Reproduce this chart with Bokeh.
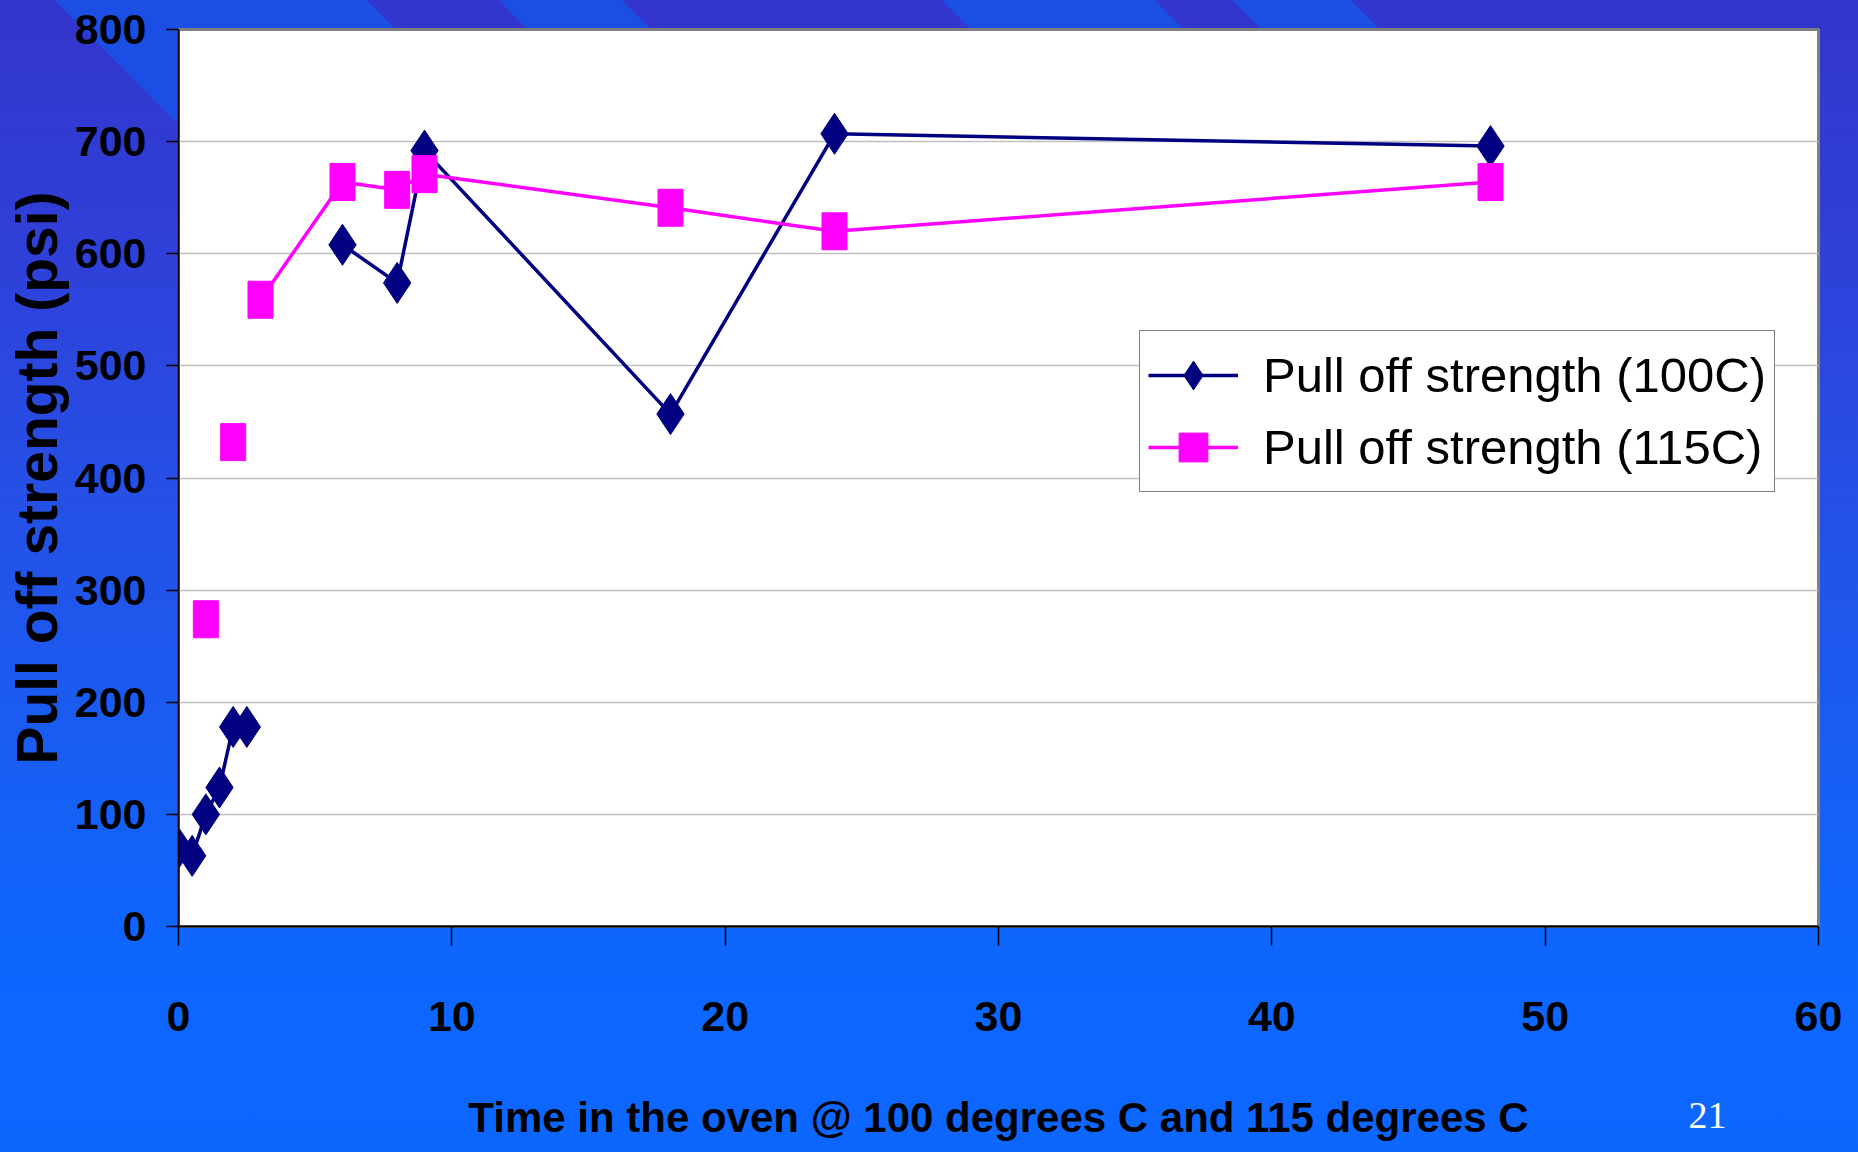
import numpy as np
from bokeh.plotting import figure
from bokeh.models import (ColumnDataSource, Range1d, FixedTicker, Legend, LegendItem,
                          Label, GlobalInlineStyleSheet)
from bokeh.embed import file_html
from bokeh.resources import INLINE

nan = float("nan")

# ---- data ----
hours = [0, 0.5, 1, 1.5, 2, 2.5, 3, 6, 8, 9, 18, 24, 48]
strength_100c = [70, 63, 100, 124, 178, 178, nan, 608, 574, 692, 457, 707, 696]
strength_115c = [nan, nan, 274, nan, 432, nan, 559, 664, 657, 671, 641, 620, 664]
x_ticks = [0, 10, 20, 30, 40, 50, 60]
y_ticks = [0, 100, 200, 300, 400, 500, 600, 700, 800]
series_names = ["Pull off strength (100C)", "Pull off strength (115C)"]
x_title = "Time in the oven @ 100 degrees C and 115 degrees C"
y_title = "Pull off strength (psi)"
page_number = "21"

SANS = "Liberation Sans, Arial, sans-serif"
SERIF = "Liberation Serif, Times New Roman, serif"
NAVY = "#000080"
MAGENTA = "#FF00FF"

src = ColumnDataSource(dict(hours=np.array(hours, dtype=float),
                            s100=np.array(strength_100c, dtype=float),
                            s115=np.array(strength_115c, dtype=float)))

p = figure(width=1858, height=1152,
           x_range=Range1d(0, 60), y_range=Range1d(0, 800),
           output_backend="svg", toolbar_location=None,
           min_border_left=178, min_border_right=40,
           min_border_top=29, min_border_bottom=226)

p.border_fill_alpha = 0
p.background_fill_color = "white"
p.outline_line_color = "#808080"
p.outline_line_width = 3

# axes
for ax in (p.xaxis[0], p.yaxis[0]):
    ax.axis_line_color = "black"
    ax.axis_line_width = 2
    ax.major_tick_line_color = "black"
    ax.major_tick_line_width = 1.5
    ax.major_tick_in = 0
    ax.minor_tick_line_color = None
    ax.major_label_text_font = SANS
    ax.major_label_text_font_style = "bold"
    ax.major_label_text_font_size = "43px"
    ax.major_label_text_color = "black"
    ax.axis_label_text_color = "black"
    ax.axis_label_text_font = SANS
    ax.axis_label_text_font_style = "bold"

p.xaxis.ticker = FixedTicker(ticks=x_ticks)
p.yaxis.ticker = FixedTicker(ticks=y_ticks)
p.xaxis.major_tick_out = 19
p.yaxis.major_tick_out = 12
p.xaxis.major_label_standoff = 56
p.yaxis.major_label_standoff = 20

p.xaxis.axis_label = x_title
p.xaxis.axis_label_text_font_size = "42px"
p.xaxis.axis_label_standoff = 60

p.yaxis.axis_label = y_title
p.yaxis.axis_label_text_font_size = "57px"
p.yaxis.axis_label_standoff = 3

p.xgrid.visible = False
p.ygrid.grid_line_color = "#C0C0C0"
p.ygrid.grid_line_width = 1.5

# series
l100 = p.line("hours", "s100", source=src, line_color=NAVY, line_width=3.5)
m100 = p.scatter("hours", "s100", source=src, marker="diamond", size=41,
                 fill_color=NAVY, line_color=NAVY)
l115 = p.line("hours", "s115", source=src, line_color=MAGENTA, line_width=3.5)
m115 = p.rect("hours", "s115", width=25, height=37, width_units="screen",
              height_units="screen", source=src, fill_color=MAGENTA, line_color=MAGENTA)
leg115 = p.scatter("hours", "s115", source=src, marker="square", size=30,
                   fill_color=MAGENTA, line_color=MAGENTA, visible=False)

legend = Legend(items=[LegendItem(label=series_names[0], renderers=[l100, m100]),
                       LegendItem(label=series_names[1], renderers=[l115, leg115])],
                location=(961, 434))
legend.label_text_font = SANS
legend.label_text_font_size = "49px"
legend.label_text_color = "black"
legend.border_line_color = "black"
legend.border_line_width = 1
legend.background_fill_color = "white"
legend.background_fill_alpha = 1
legend.glyph_width = 90
legend.glyph_height = 72
legend.label_height = 50
legend.spacing = 0
legend.padding = 8
legend.label_standoff = 25
legend.margin = 0
p.add_layout(legend)

# slide page number (placed via the right side panel so it is not clipped to the frame)
p.add_layout(Label(x=-111, y=-189, x_units="screen", y_units="screen", text=page_number,
                   text_font=SERIF, text_font_size="38px", text_color="white",
                   text_align="center", text_baseline="middle"), "right")

css = """
html {
  height: 100%;
  background:
    linear-gradient(45deg,
      transparent 0px 130.8px, #1B4EE2 130.8px 351.4px,
      transparent 351.4px 444.1px, #1B4EE2 444.1px 531.7px,
      transparent 531.7px 758px, #1B4EE2 758px 908.6px,
      transparent 908.6px 963.1px, #1B4EE2 963.1px 1047.2px,
      transparent 1047.2px) top left / 100% 130px no-repeat,
    linear-gradient(to bottom, #3335CC 0px, #2F40D8 250px, #2550E6 500px,
      #1660F5 800px, #0E66FF 950px, #0D67FF 1152px) top left / 100% 100% no-repeat;
}
body { margin: 0; height: 100%; overflow: hidden; background: transparent; }
"""
p.stylesheets = [GlobalInlineStyleSheet(css=css)]

open("out.html", "w").write(file_html(p, INLINE))
